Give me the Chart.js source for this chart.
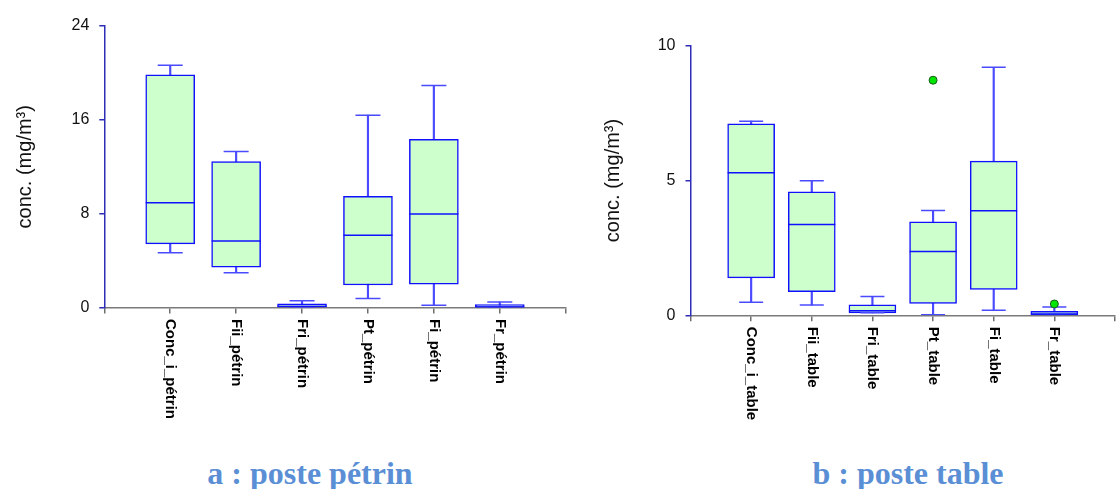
<!DOCTYPE html>
<html>
<head>
<meta charset="utf-8">
<script src="https://cdn.jsdelivr.net/npm/chart.js@4/dist/chart.umd.min.js"></script>
<style>
body { margin: 0; width: 1116px; height: 489px; overflow: hidden; background: #fff; position: relative; }
canvas { position: absolute; top: 0; }
#boxA { left: 0; }
#boxB { left: 560px; }
.cap { position: absolute; top: 455px; width: 400px; text-align: center; line-height: 32px;
       font: bold 32px "Liberation Serif", "Times New Roman", serif; color: #5a8fd5; }
</style>
</head>
<body>
<canvas id="boxA" width="600" height="440"></canvas>
<canvas id="boxB" width="580" height="440"></canvas>
<div class="cap" style="left:110px">a : poste pétrin</div>
<div class="cap" style="left:708px">b : poste table</div>
<script>
// poste pétrin
var catsA = ['Conc_i_pétrin', 'Fii_pétrin', 'Fri_pétrin', 'Pt_pétrin', 'Fi_pétrin', 'Fr_pétrin'];
var minA = [4.67, 2.96, 0.00, 0.77, 0.19, 0.00];
var q1A  = [5.43, 3.44, 0.04, 1.92, 1.98, 0.02];
var medA = [8.94, 5.68, 0.08, 6.16, 7.98, 0.05];
var q3A  = [19.83, 12.45, 0.32, 9.47, 14.33, 0.24];
var maxA = [20.65, 13.29, 0.57, 16.40, 18.93, 0.46];
var outXA = [];
var outYA = [];
var yTicksA = [0, 8, 16, 24];

// poste table
var catsB = ['Conc_i_table', 'Fii_table', 'Fri_table', 'Pt_table', 'Fi_table', 'Fr_table'];
var minB = [0.48, 0.38, 0.09, 0.02, 0.19, 0.01];
var q1B  = [1.39, 0.88, 0.09, 0.44, 0.96, 0.01];
var medB = [5.29, 3.37, 0.17, 2.37, 3.88, 0.05];
var q3B  = [7.10, 4.58, 0.39, 3.47, 5.72, 0.15];
var maxB = [7.20, 4.99, 0.70, 3.89, 9.20, 0.31];
var outXB = [3, 5];
var outYB = [8.72, 0.42];
var yTicksB = [0, 5, 10];

var FONT = '"Liberation Sans", Arial, sans-serif';
var BOX_LINE = '#1010ff';
var WHISK = '#4a4aff';

// rotated category names under the x axis
var xLabels = {
    id: 'xLabels',
    afterDraw: function(chart) {
        var sc = chart.scales.x, c = chart.ctx;
        var cats = chart.options.plugins.xLabels.cats;
        c.save();
        c.font = 'bold 15px ' + FONT;
        c.fillStyle = '#000';
        c.textAlign = 'left';
        c.textBaseline = 'middle';
        cats.forEach(function(t, i) {
            c.save();
            c.translate(sc.getPixelForValue(i), sc.top + 11.5);
            c.rotate(Math.PI / 2);
            c.fillText(t, 0, 0);
            c.restore();
        });
        c.restore();
    }
};

function pts(vals) {
    return vals.map(function(v, i) { return {x: i, y: v}; });
}
function rng(lo, hi) {
    return lo.map(function(v, i) { return {x: i, y: [v, hi[i]]}; });
}
function marks(data, r, color, order) {
    return {
        type: 'line', data: data, showLine: false, order: order,
        pointStyle: 'line', pointRadius: r, pointHoverRadius: r,
        pointBorderColor: color, pointBorderWidth: 1.5, borderColor: color
    };
}

function draw_box(EleID, cats, mins, q1s, meds, q3s, maxs, outX, outY, yMax, yTicks, o) {
    var ctx = document.getElementById(EleID).getContext('2d');
    var outliers = outX.map(function(x, i) { return {x: x, y: outY[i]}; });
    var config = {
        type: 'bar',
        data: {
            datasets: [
                {type: 'bar', data: rng(mins, maxs), backgroundColor: WHISK, borderWidth: 0,
                 barThickness: 1.5, grouped: false, order: 3},
                {type: 'bar', data: rng(q1s, q3s), backgroundColor: '#ccffcc', borderColor: BOX_LINE,
                 borderWidth: 1.5, borderSkipped: false, barThickness: o.boxW, grouped: false, order: 2},
                marks(pts(meds), o.boxW / 2, BOX_LINE, 1),
                marks(pts(maxs), o.capW / 2, WHISK, 1),
                marks(pts(mins), o.capW / 2, WHISK, 1),
                {type: 'line', data: outliers, showLine: false, order: 0, pointRadius: 4, pointHoverRadius: 4,
                 pointBackgroundColor: '#00e600', pointBorderColor: '#1d5a1d', pointBorderWidth: 1}
            ]
        },
        options: {
            responsive: false,
            animation: false,
            devicePixelRatio: 1,
            layout: {padding: {top: o.top, right: o.padR, left: 0, bottom: 0}},
            plugins: {legend: {display: false}, tooltip: {enabled: false}, xLabels: {cats: cats}},
            scales: {
                x: {
                    type: 'linear', min: -1, max: 6, offset: false,
                    afterBuildTicks: function(s) {
                        s.ticks = [-1, 0, 1, 2, 3, 4, 5, 6].map(function(v) { return {value: v}; });
                    },
                    afterFit: function(s) { s.height = o.xH; },
                    ticks: {display: false},
                    grid: {offset: false, drawOnChartArea: false, color: '#6e6e6e', tickLength: 6, lineWidth: 1.5},
                    border: {color: '#7a7a7a', width: 1.5}
                },
                y: {
                    min: 0, max: yMax,
                    afterBuildTicks: function(s) {
                        s.ticks = yTicks.map(function(v) { return {value: v}; });
                    },
                    afterFit: function(s) { s.width = o.left; },
                    ticks: {color: '#111', padding: 10, font: {size: 16, family: FONT}},
                    grid: {drawOnChartArea: false, color: '#2d2db8', tickLength: 5, lineWidth: 1.5},
                    border: {color: '#2d2db8', width: 1.5},
                    title: {display: true, text: 'conc. (mg/m³)', color: '#111',
                            font: {size: 20, family: FONT}, padding: {top: o.titlePad, bottom: 0}}
                }
            }
        },
        plugins: [xLabels]
    };
    return new Chart(ctx, config);
}

draw_box('boxA', catsA, minA, q1A, medA, q3A, maxA, outXA, outYA, 24, yTicksA,
    {top: 22.5, padR: 34.3, left: 104.3, xH: 132.5, boxW: 49, capW: 25, titlePad: 13});
draw_box('boxB', catsB, minB, q1B, medB, q3B, maxB, outXB, outYB, 10, yTicksB,
    {top: 45.7, padR: 14.6, left: 130.5, xH: 124.7, boxW: 47, capW: 24, titlePad: 41});
</script>
</body>
</html>
